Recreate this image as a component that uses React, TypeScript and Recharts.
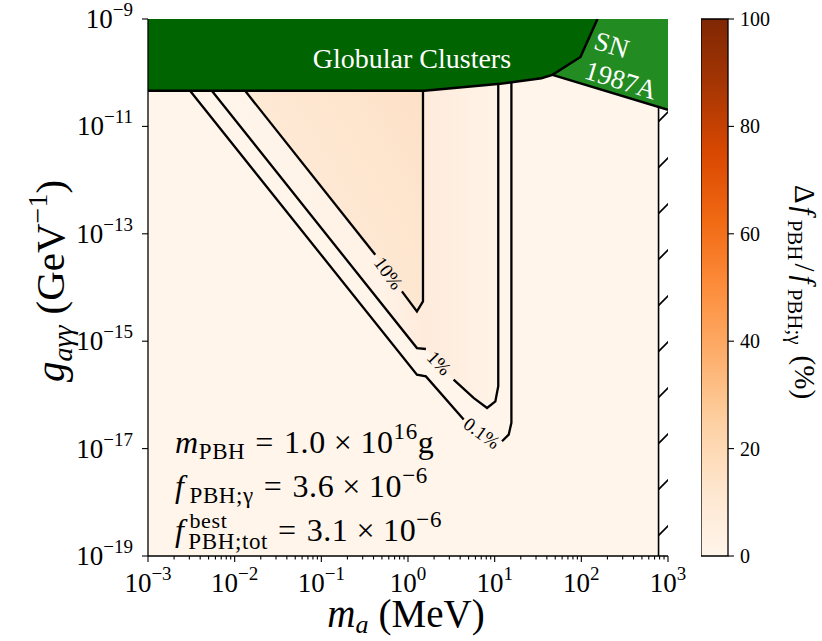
import React from "react";
import { ComposedChart, Area, Line, XAxis, YAxis, ReferenceDot, ReferenceArea } from "recharts";

const FONT = "'Liberation Serif', 'Times New Roman', serif";

// axis ticks
const massDecades = [1e-3, 1e-2, 1e-1, 1, 10, 100, 1000];
const minorSteps = [2, 3, 4, 5, 6, 7, 8, 9];
const couplingTicks = [1e-19, 1e-17, 1e-15, 1e-13, 1e-11, 1e-9];
const cbarTicks = [0, 20, 40, 60, 80, 100];

// m_a in MeV, g in GeV^-1
const gcMass = [1e-3, 1.54, 11.6, 34.6, 46.4, 97.7, 153.5];
const gcCoupling = [4.6e-11, 4.6e-11, 6.2e-11, 7.9e-11, 9.1e-11, 1.96e-10, 1e-9];
const snMass = [46.4, 1000];
const snCoupling = [9.1e-11, 2.03e-11];
const hatchMass = [778, 1000];
const hatchTop = [2.3e-11, 2.03e-11];

// contour lines, split where the inline labels sit
const c10MassA = [0.0132, 0.419];
const c10CoupA = [4.6e-11, 4.06e-14];
const c10MassB = [0.851, 1.268, 1.489, 1.489];
const c10CoupB = [8.45e-15, 3.59e-15, 5.5e-15, 4.6e-11];
const c1MassA = [0.00545, 1.268, 1.61];
const c1CoupA = [4.6e-11, 7.46e-16, 7.16e-16];
const c1MassB = [3.36, 5.71, 8.17, 10.19, 11.0, 11.0];
const c1CoupB = [1.92e-16, 8.77e-17, 5.71e-17, 7.59e-17, 1.45e-16, 6.14e-11];
const c01MassA = [0.003055, 1.268, 1.61, 4.39];
const c01CoupA = [4.6e-11, 2.38e-16, 2.21e-16, 3.47e-17];
const c01MassB = [12.16, 14.52, 15.6, 15.6];
const c01CoupB = [1.37e-17, 1.82e-17, 3.02e-17, 6.61e-11];

const contourLabels = ["10%", "1%", "0.1%"];
const labelMass = [0.597, 2.3, 7.14];
const labelCoupling = [1.86e-14, 3.93e-16, 1.95e-17];
const labelRotation = [54, 46, 36];

// where the annotations sit, in data units
const gcLabelAt = { m: 1.11, g: 1.22e-10 };
const snLabelAt = { m: 251, g: 1.58e-10 };
const infoAt = { m: 2.05e-3, g: 8.3e-18 };

const G_MIN = 1e-19;
const G_MAX = 1e-9;

const pts = (ms: number[], gs: number[]) => ms.map((m, i) => ({ m, g: gs[i] }));
const band = (ms: number[], lo: number[], hi: number) => ms.map((m, i) => ({ m, r: [lo[i], hi] }));

const massTicks = [
  ...massDecades,
  ...massDecades.slice(0, -1).flatMap((d) => minorSteps.map((s) => s * d)),
].sort((a, b) => a - b);

const bgData = band([1e-3, 1e3], [G_MIN, G_MIN], G_MAX);
const gcData = band(gcMass, gcCoupling, G_MAX);
const snData = band(snMass, snCoupling, G_MAX);
const hatchData = hatchMass.map((m, i) => ({ m, r: [G_MIN, hatchTop[i]] }));
const inside1 = band([...c1MassA, ...c1MassB], [...c1CoupA, ...c1CoupB], G_MAX);
const inside10 = band([...c10MassA, ...c10MassB], [...c10CoupA, ...c10CoupB], G_MAX);

const gcEdge = pts(gcMass, gcCoupling);
const snEdge = pts(snMass, snCoupling);
const hatchEdge = pts([hatchMass[0], hatchMass[0]], [G_MIN, hatchTop[0]]);

const contours = [
  pts(c10MassA, c10CoupA),
  pts(c10MassB, c10CoupB),
  pts(c1MassA, c1CoupA),
  pts(c1MassB, c1CoupB),
  pts(c01MassA, c01CoupA),
  pts(c01MassB, c01CoupB),
];

const cbarData = [{ x: 0, v: [0, 100] }, { x: 1, v: [0, 100] }];

const expo = (v: number) => {
  const e = Math.round(Math.log10(v));
  return (e < 0 ? "\u2212" : "") + Math.abs(e);
};
const isDecade = (v: number) => Math.abs(Math.log10(v) - Math.round(Math.log10(v))) < 1e-6;

const MassTick = (p: any) => {
  const { x, y, payload } = p;
  const major = isDecade(payload.value);
  return (
    <g>
      <line x1={x} x2={x} y1={y} y2={y + (major ? 6 : 3.5)} stroke="#000" strokeWidth={1.1} />
      {major && (
        <text x={x} y={y + 36} textAnchor="middle" fontFamily={FONT} fontSize={27} fill="#000">
          10<tspan dy={-12} fontSize={19}>{expo(payload.value)}</tspan>
        </text>
      )}
    </g>
  );
};

const MassTickTop = (p: any) => {
  const { x, y, payload } = p;
  const major = isDecade(payload.value);
  return <line x1={x} x2={x} y1={y} y2={y - (major ? 6 : 3.5)} stroke="#000" strokeWidth={1.1} />;
};

const CouplingTick = (p: any) => {
  const { x, y, payload } = p;
  return (
    <g>
      <line x1={x} x2={x - 6} y1={y} y2={y} stroke="#000" strokeWidth={1.1} />
      <text x={x - 15} y={y + 9} textAnchor="end" fontFamily={FONT} fontSize={27} fill="#000">
        10<tspan dy={-12} fontSize={19}>{expo(payload.value)}</tspan>
      </text>
    </g>
  );
};

const CouplingTickRight = (p: any) => {
  const { x, y } = p;
  return <line x1={x} x2={x + 6} y1={y} y2={y} stroke="#000" strokeWidth={1.1} />;
};

const CbarTick = (p: any) => {
  const { x, y, payload } = p;
  return (
    <g>
      <line x1={x} x2={x + 6} y1={y} y2={y} stroke="#000" strokeWidth={1.1} />
      <text x={x + 12} y={y + 7} fontFamily={FONT} fontSize={20} fill="#000">
        {payload.value}
      </text>
    </g>
  );
};

const InfoBlock = ({ cx, cy }: any) => (
  <g fontFamily={FONT} fontSize={32} fill="#000" letterSpacing={0.6}>
    <text x={cx} y={cy}>
      <tspan fontStyle="italic">m</tspan>
      <tspan fontSize={23} dy={6}>PBH</tspan>
      <tspan dy={-6} dx={10}>=</tspan>
      <tspan dx={10}>1.0</tspan>
      <tspan dx={8}>×</tspan>
      <tspan dx={8}>10</tspan>
      <tspan fontSize={23} dy={-14}>16</tspan>
      <tspan dy={14}>g</tspan>
    </text>
    <text x={cx} y={cy + 44}>
      <tspan fontStyle="italic">f</tspan>
      <tspan fontSize={23} dy={6} dx={5}>PBH;γ</tspan>
      <tspan dy={-6} dx={10}>=</tspan>
      <tspan dx={10}>3.6</tspan>
      <tspan dx={8}>×</tspan>
      <tspan dx={8}>10</tspan>
      <tspan fontSize={23} dy={-14}>−6</tspan>
    </text>
    <text x={cx} y={cy + 88}>
      <tspan fontStyle="italic">f</tspan>
      <tspan fontSize={22} dy={-13} dx={5}>best</tspan>
      <tspan fontSize={23} dy={21} dx={-39}>PBH;tot</tspan>
      <tspan dy={-8} dx={10}>=</tspan>
      <tspan dx={10}>3.1</tspan>
      <tspan dx={8}>×</tspan>
      <tspan dx={8}>10</tspan>
      <tspan fontSize={23} dy={-14}>−6</tspan>
    </text>
  </g>
);

const orangeStops = ["#fff5eb", "#fee6ce", "#fdd0a2", "#fdae6b", "#fd8d3c", "#f16913", "#d94801", "#a63603", "#7f2704"];

const axisStroke = { stroke: "#000", strokeWidth: 1.3 };

export default function App() {
  return (
    <div style={{ position: "absolute", left: 0, top: 0, width: 822, height: 641, background: "#fff" }}>
      <div style={{ position: "absolute", left: 0, top: 0 }}>
        <ComposedChart width={822} height={641} margin={{ top: 19, right: 154, bottom: 0, left: 0 }}>
          <defs>
            <pattern id="hatch" patternUnits="userSpaceOnUse" width={46} height={46}>
              <rect width={46} height={46} fill="#fff" />
              <path d="M-1,45 L45,-1 M43,48 L48,43" stroke="#000" strokeWidth={1.6} />
            </pattern>
            <linearGradient id="shade1" x1="0" y1="0" x2="1" y2="0">
              <stop offset="0" stopColor="#fff5eb" />
              <stop offset="0.6" stopColor="#fff2e6" />
              <stop offset="0.74" stopColor="#feebdc" />
              <stop offset="1" stopColor="#fff3e7" />
            </linearGradient>
            <linearGradient id="shade10" x1="0" y1="1" x2="1" y2="0">
              <stop offset="0" stopColor="#fff2e6" />
              <stop offset="0.45" stopColor="#fee8d3" />
              <stop offset="1" stopColor="#fddfc3" />
            </linearGradient>
          </defs>

          <XAxis
            dataKey="m"
            type="number"
            scale="log"
            domain={[1e-3, 1e3]}
            allowDataOverflow
            ticks={massTicks}
            interval={0}
            height={85}
            tickSize={0}
            tickMargin={0}
            tickLine={false}
            tick={(p: any) => <MassTick {...p} />}
            axisLine={axisStroke}
          />
          <XAxis
            xAxisId="top"
            orientation="top"
            dataKey="m"
            type="number"
            scale="log"
            domain={[1e-3, 1e3]}
            allowDataOverflow
            ticks={massTicks}
            interval={0}
            height={0}
            tickSize={0}
            tickMargin={0}
            tickLine={false}
            tick={(p: any) => <MassTickTop {...p} />}
            axisLine={axisStroke}
          />
          <YAxis
            type="number"
            scale="log"
            domain={[G_MIN, G_MAX]}
            allowDataOverflow
            ticks={couplingTicks}
            interval={0}
            width={148}
            tickSize={0}
            tickMargin={0}
            tickLine={false}
            tick={(p: any) => <CouplingTick {...p} />}
            axisLine={axisStroke}
          />
          <YAxis
            yAxisId="right"
            orientation="right"
            type="number"
            scale="log"
            domain={[G_MIN, G_MAX]}
            allowDataOverflow
            ticks={couplingTicks}
            interval={0}
            width={0}
            tickSize={0}
            tickMargin={0}
            tickLine={false}
            tick={(p: any) => <CouplingTickRight {...p} />}
            axisLine={axisStroke}
          />

          <Area data={bgData} dataKey="r" type="linear" fill="#fff5eb" fillOpacity={1} stroke="none" isAnimationActive={false} />
          <Area data={inside1} dataKey="r" type="linear" fill="url(#shade1)" fillOpacity={1} stroke="none" isAnimationActive={false} />
          <Area data={inside10} dataKey="r" type="linear" fill="url(#shade10)" fillOpacity={1} stroke="none" isAnimationActive={false} />
          <Area data={hatchData} dataKey="r" type="linear" fill="url(#hatch)" fillOpacity={1} stroke="none" isAnimationActive={false} />
          <Area data={snData} dataKey="r" type="linear" fill="#228b22" fillOpacity={1} stroke="none" isAnimationActive={false} />
          <Area data={gcData} dataKey="r" type="linear" fill="#006400" fillOpacity={1} stroke="none" isAnimationActive={false} />

          {contours.map((d, i) => (
            <Line key={i} data={d} dataKey="g" type="linear" stroke="#000" strokeWidth={2.3} dot={false} isAnimationActive={false} />
          ))}
          <Line data={gcEdge} dataKey="g" type="linear" stroke="#000" strokeWidth={2.5} dot={false} isAnimationActive={false} />
          <Line data={snEdge} dataKey="g" type="linear" stroke="#000" strokeWidth={2.5} dot={false} isAnimationActive={false} />
          <Line data={hatchEdge} dataKey="g" type="linear" stroke="#000" strokeWidth={1.6} dot={false} isAnimationActive={false} />

          {contourLabels.map((t, i) => (
            <ReferenceDot
              key={t}
              x={labelMass[i]}
              y={labelCoupling[i]}
              r={0}
              shape={(p: any) => (
                <text
                  transform={`translate(${p.cx},${p.cy}) rotate(${labelRotation[i]})`}
                  textAnchor="middle"
                  dy="0.35em"
                  fontFamily={FONT}
                  fontSize={19}
                  fill="#000"
                >
                  {t}
                </text>
              )}
            />
          ))}

          <ReferenceDot
            x={gcLabelAt.m}
            y={gcLabelAt.g}
            r={0}
            shape={(p: any) => (
              <text x={p.cx} y={p.cy} textAnchor="middle" fill="#fff" fontFamily={FONT} fontSize={28}>
                Globular Clusters
              </text>
            )}
          />
          <ReferenceDot
            x={snLabelAt.m}
            y={snLabelAt.g}
            r={0}
            shape={(p: any) => (
              <g transform={`translate(${p.cx},${p.cy}) rotate(17)`} fill="#fff" fontFamily={FONT} fontSize={27}>
                <text x={-9} y={-6} textAnchor="middle">SN</text>
                <text x={10} y={25} textAnchor="middle">1987A</text>
              </g>
            )}
          />
          <ReferenceDot x={infoAt.m} y={infoAt.g} r={0} shape={(p: any) => <InfoBlock cx={p.cx} cy={p.cy} />} />

          <text x={406} y={627} textAnchor="middle" fontFamily={FONT} fontSize={39} fill="#000">
            <tspan fontStyle="italic">m</tspan>
            <tspan fontSize={26} dy={6} fontStyle="italic">a</tspan>
            <tspan dy={-6} dx={10}>(MeV)</tspan>
          </text>
          <text transform="translate(64,281) rotate(-90)" textAnchor="middle" fontFamily={FONT} fontSize={41} fill="#000">
            <tspan fontStyle="italic">g</tspan>
            <tspan fontSize={28} dy={8} fontStyle="italic">aγγ</tspan>
            <tspan dy={-8} dx={11}>(GeV</tspan>
            <tspan fontSize={28} dy={-17}>−1</tspan>
            <tspan dy={17}>)</tspan>
          </text>
        </ComposedChart>
      </div>

      <div style={{ position: "absolute", left: 701, top: 0 }}>
        <ComposedChart width={121} height={641} margin={{ top: 19, right: 0, bottom: 85, left: 0 }} data={cbarData}>
          <defs>
            <linearGradient id="cmap" x1="0" y1="1" x2="0" y2="0">
              {orangeStops.map((c, i) => (
                <stop key={c} offset={i / (orangeStops.length - 1)} stopColor={c} />
              ))}
            </linearGradient>
          </defs>
          <XAxis type="number" dataKey="x" domain={[0, 1]} hide />
          <YAxis
            orientation="right"
            type="number"
            domain={[0, 100]}
            ticks={cbarTicks}
            interval={0}
            width={94}
            tickSize={0}
            tickMargin={0}
            tickLine={false}
            axisLine={false}
            tick={(p: any) => <CbarTick {...p} />}
          />
          <Area dataKey="v" type="linear" fill="url(#cmap)" fillOpacity={1} stroke="none" isAnimationActive={false} />
          <ReferenceArea x1={0} x2={1} y1={0} y2={100} fill="none" stroke="#000" strokeWidth={1.3} />
          <text transform="translate(94,292) rotate(90)" textAnchor="middle" fontFamily={FONT} fontSize={29} fill="#000">
            <tspan>Δ</tspan>
            <tspan fontStyle="italic" dx={3}>f</tspan>
            <tspan fontSize={21} dy={7} dx={5}>PBH</tspan>
            <tspan dy={-7} dx={3}>/</tspan>
            <tspan fontStyle="italic" dx={4}>f</tspan>
            <tspan fontSize={21} dy={7} dx={5}>PBH;γ</tspan>
            <tspan dy={-7} dx={11}>(%)</tspan>
          </text>
        </ComposedChart>
      </div>
    </div>
  );
}
